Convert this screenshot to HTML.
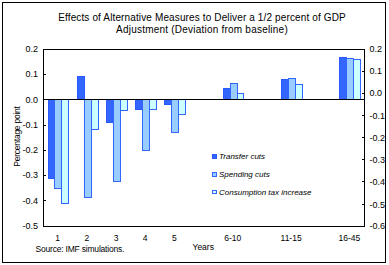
<!DOCTYPE html>
<html><head><meta charset="utf-8"><style>
html,body{margin:0;padding:0;background:#fff;width:389px;height:265px;overflow:hidden}
svg{display:block}
text{font-family:"Liberation Sans",sans-serif;fill:#000}
</style></head><body>
<svg width="389" height="265" viewBox="0 0 389 265" shape-rendering="crispEdges">
<rect x="0" y="0" width="389" height="265" fill="#fff"/>
<rect x="48" y="100" width="7" height="79" fill="#2a5aff"/><rect x="49" y="100" width="5" height="78" fill="#3366ff"/><rect x="54" y="100" width="8" height="89" fill="#3366ff"/><rect x="55" y="100" width="6" height="88" fill="#99ccff"/><rect x="61" y="100" width="8" height="104" fill="#3366ff"/><rect x="62" y="100" width="6" height="103" fill="#ccffff"/><rect x="77" y="76" width="8" height="23" fill="#2a5aff"/><rect x="78" y="77" width="6" height="22" fill="#3366ff"/><rect x="84" y="100" width="8" height="98" fill="#3366ff"/><rect x="85" y="100" width="6" height="97" fill="#99ccff"/><rect x="91" y="100" width="8" height="30" fill="#3366ff"/><rect x="92" y="100" width="6" height="29" fill="#ccffff"/><rect x="106" y="100" width="8" height="23" fill="#2a5aff"/><rect x="107" y="100" width="6" height="22" fill="#3366ff"/><rect x="113" y="100" width="8" height="82" fill="#3366ff"/><rect x="114" y="100" width="6" height="81" fill="#99ccff"/><rect x="120" y="100" width="8" height="11" fill="#3366ff"/><rect x="121" y="100" width="6" height="10" fill="#ccffff"/><rect x="135" y="100" width="8" height="10" fill="#2a5aff"/><rect x="136" y="100" width="6" height="9" fill="#3366ff"/><rect x="142" y="100" width="8" height="51" fill="#3366ff"/><rect x="143" y="100" width="6" height="50" fill="#99ccff"/><rect x="149" y="100" width="8" height="10" fill="#3366ff"/><rect x="150" y="100" width="6" height="9" fill="#ccffff"/><rect x="164" y="100" width="8" height="5" fill="#2a5aff"/><rect x="165" y="100" width="6" height="4" fill="#3366ff"/><rect x="171" y="100" width="8" height="33" fill="#3366ff"/><rect x="172" y="100" width="6" height="32" fill="#99ccff"/><rect x="178" y="100" width="8" height="15" fill="#3366ff"/><rect x="179" y="100" width="6" height="14" fill="#ccffff"/><rect x="223" y="88" width="8" height="11" fill="#2a5aff"/><rect x="224" y="89" width="6" height="10" fill="#3366ff"/><rect x="230" y="83" width="8" height="16" fill="#3366ff"/><rect x="231" y="84" width="6" height="15" fill="#99ccff"/><rect x="237" y="93" width="7" height="6" fill="#3366ff"/><rect x="238" y="94" width="5" height="5" fill="#ccffff"/><rect x="281" y="79" width="8" height="20" fill="#2a5aff"/><rect x="282" y="80" width="6" height="19" fill="#3366ff"/><rect x="288" y="78" width="8" height="21" fill="#3366ff"/><rect x="289" y="79" width="6" height="20" fill="#99ccff"/><rect x="295" y="84" width="8" height="15" fill="#3366ff"/><rect x="296" y="85" width="6" height="14" fill="#ccffff"/><rect x="339" y="57" width="8" height="42" fill="#2a5aff"/><rect x="340" y="58" width="6" height="41" fill="#3366ff"/><rect x="346" y="58" width="8" height="41" fill="#3366ff"/><rect x="347" y="59" width="6" height="40" fill="#99ccff"/><rect x="353" y="59" width="8" height="40" fill="#3366ff"/><rect x="354" y="60" width="6" height="39" fill="#ccffff"/><rect x="212" y="154" width="5" height="5" fill="#2a5aff"/><rect x="213" y="155" width="3" height="3" fill="#3366ff"/><rect x="212" y="172" width="5" height="5" fill="#3366ff"/><rect x="213" y="173" width="3" height="3" fill="#99ccff"/><rect x="212" y="190" width="5" height="4" fill="#3366ff"/><rect x="213" y="191" width="3" height="2" fill="#ccffff"/>
<rect x="2" y="2" width="384" height="1" fill="#000"/><rect x="2" y="262" width="384" height="1" fill="#000"/><rect x="2" y="2" width="1" height="261" fill="#000"/><rect x="385" y="2" width="1" height="261" fill="#000"/><rect x="43" y="49" width="322" height="1" fill="#000"/><rect x="43" y="226" width="322" height="1" fill="#000"/><rect x="43" y="49" width="1" height="178" fill="#000"/><rect x="364" y="49" width="1" height="178" fill="#000"/><rect x="43" y="99" width="322" height="1" fill="#000"/><rect x="44" y="74" width="2" height="1" fill="#000"/><rect x="44" y="125" width="2" height="1" fill="#000"/><rect x="44" y="150" width="2" height="1" fill="#000"/><rect x="44" y="175" width="2" height="1" fill="#000"/><rect x="44" y="200" width="2" height="1" fill="#000"/><rect x="362" y="71" width="2" height="1" fill="#000"/><rect x="362" y="93" width="2" height="1" fill="#000"/><rect x="362" y="115" width="2" height="1" fill="#000"/><rect x="362" y="137" width="2" height="1" fill="#000"/><rect x="362" y="159" width="2" height="1" fill="#000"/><rect x="362" y="181" width="2" height="1" fill="#000"/><rect x="362" y="204" width="2" height="1" fill="#000"/>
<text x="202" y="21" font-size="10" text-anchor="middle" letter-spacing="0.13">Effects of Alternative Measures to Deliver a 1/2 percent of GDP</text><text x="202" y="33" font-size="10" text-anchor="middle" letter-spacing="0.22">Adjustment (Deviation from baseline)</text><text x="38" y="52" font-size="9" text-anchor="end" >0.2</text><text x="38" y="77" font-size="9" text-anchor="end" >0.1</text><text x="38" y="103" font-size="9" text-anchor="end" >0.0</text><text x="38" y="128" font-size="9" text-anchor="end" >-0.1</text><text x="38" y="153" font-size="9" text-anchor="end" >-0.2</text><text x="38" y="178" font-size="9" text-anchor="end" >-0.3</text><text x="38" y="204" font-size="9" text-anchor="end" >-0.4</text><text x="38" y="229" font-size="9" text-anchor="end" >-0.5</text><text x="369.5" y="52" font-size="9" text-anchor="start" >0.2</text><text x="369.5" y="74" font-size="9" text-anchor="start" >0.1</text><text x="369.5" y="96" font-size="9" text-anchor="start" >0.0</text><text x="369.5" y="119" font-size="9" text-anchor="start" >-0.1</text><text x="369.5" y="141" font-size="9" text-anchor="start" >-0.2</text><text x="369.5" y="163" font-size="9" text-anchor="start" >-0.3</text><text x="369.5" y="185" font-size="9" text-anchor="start" >-0.4</text><text x="369.5" y="208" font-size="9" text-anchor="start" >-0.5</text><text x="369.5" y="229" font-size="9" text-anchor="start" >-0.6</text><text x="57.6" y="241" font-size="8.5" text-anchor="middle" >1</text><text x="86.8" y="241" font-size="8.5" text-anchor="middle" >2</text><text x="116" y="241" font-size="8.5" text-anchor="middle" >3</text><text x="145.1" y="241" font-size="8.5" text-anchor="middle" >4</text><text x="174.3" y="241" font-size="8.5" text-anchor="middle" >5</text><text x="232.7" y="241" font-size="8.5" text-anchor="middle" >6-10</text><text x="291.1" y="241" font-size="8.5" text-anchor="middle" >11-15</text><text x="349.4" y="241" font-size="8.5" text-anchor="middle" >16-45</text><text x="192.5" y="250" font-size="8.5" text-anchor="start" >Years</text><text x="35.5" y="252" font-size="8.5" text-anchor="start" letter-spacing="-0.2">Source: IMF simulations.</text><text transform="translate(20,136.5) rotate(-90)" font-size="8.5" letter-spacing="-0.25" text-anchor="middle">Percentage point</text><text x="219" y="159" font-size="8" text-anchor="start" font-style="italic">Transfer cuts</text><text x="219" y="177" font-size="8" text-anchor="start" font-style="italic">Spending cuts</text><text x="219" y="195" font-size="8" text-anchor="start" font-style="italic">Consumption tax increase</text>
</svg>
</body></html>
